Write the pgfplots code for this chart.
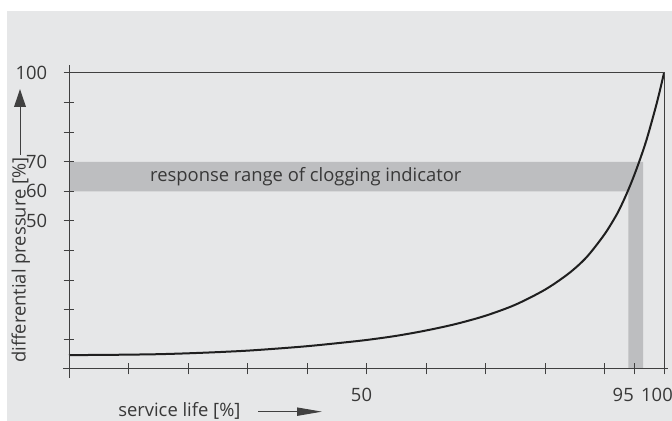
\documentclass[border=0pt]{standalone}
\usepackage{fontspec}
\setmainfont{Open Sans}
\usepackage{pgfplots}
\pgfplotsset{compat=1.18}
\usetikzlibrary{arrows.meta}
\definecolor{bg}{HTML}{E6E7E8}
\definecolor{band}{HTML}{BDBEC0}
\definecolor{axc}{HTML}{404040}
\definecolor{txt}{HTML}{383838}
\newcommand{\lbl}{\fontsize{13.8}{16}\selectfont}
\begin{document}
\begin{tikzpicture}
\useasboundingbox (0,0) rectangle (504pt,315.75pt);
\fill[bg] (5.25pt,0) rectangle (504pt,307.5pt);
\begin{axis}[
  at={(51.75pt,39pt)}, anchor=south west,
  scale only axis, width=446.25pt, height=222pt,
  xmin=0, xmax=100, ymin=0, ymax=100,
  axis on top, clip=false,
  axis line style={axc, line width=0.75pt},
  every tick/.style={axc, line width=0.75pt},
  tick align=center, major tick length=8.25pt,
  xtick pos=bottom, ytick pos=left,
  xtick={0,10,20,30,40,50,60,70,80,90,95,100},
  xticklabels={,,,,,50,,,,,{\hspace*{-9pt}95},{\hspace*{-3pt}100}},
  ytick={0,10,...,100},
  yticklabels={,,,,,50,60,70,,,100},
  /pgf/number format/assume math mode=true,
  xticklabel shift=10pt,
  xticklabel style={font=\lbl, text=txt, inner sep=0pt, anchor=north, xshift=-3.75pt},
  yticklabel style={font=\lbl, text=txt, inner sep=0pt, anchor=east, xshift=-12pt},
]
\addplot[fill=band, draw=none] coordinates {(0,60) (94,60) (94,0) (96.5,0) (96.5,70) (0,70)} -- cycle;
\addplot[smooth, line width=1.5pt, color=black!88] coordinates {
(0,4.7) (5,4.75) (10,4.85) (15,5.0) (20,5.3) (25,5.7) (30,6.2) (35,6.9) (40,7.7) (45,8.7) (50,9.8) (55,11.2) (60,13) (65,15.2) (70,18) (75,21.7) (80,26.8) (84,32.3) (87,37.8) (90,45.5) (92,52) (93,56) (94,60.5) (95,65.5) (96,71) (97,77) (98,84) (99,91.5) (100,100)};
\draw[axc, line width=0.75pt] (axis cs:0,-3) -- (axis cs:0,102.7);
\draw[axc, line width=0.75pt] (axis cs:-1,0) -- (axis cs:100.7,0);
\node[anchor=west, inner sep=0pt, font=\lbl, text=txt] at (axis cs:13.6,65) {response range of clogging indicator};
\end{axis}
\node[anchor=base west, inner sep=0pt, rotate=90, font=\lbl, text=txt] at (19.3pt,43.5pt) {differential pressure [\%]};
\draw[axc, line width=0.75pt, -{Triangle[length=13.5pt,width=8.8pt]}] (15pt,199.5pt) -- (15pt,249pt);
\node[anchor=base west, inner sep=0pt, font=\lbl, text=txt] at (88.5pt,3.4pt) {service life [\%]};
\draw[axc, line width=0.75pt, -{Triangle[length=18.75pt,width=6.2pt]}] (193.5pt,7pt) -- (241.5pt,7pt);
\end{tikzpicture}
\end{document}
